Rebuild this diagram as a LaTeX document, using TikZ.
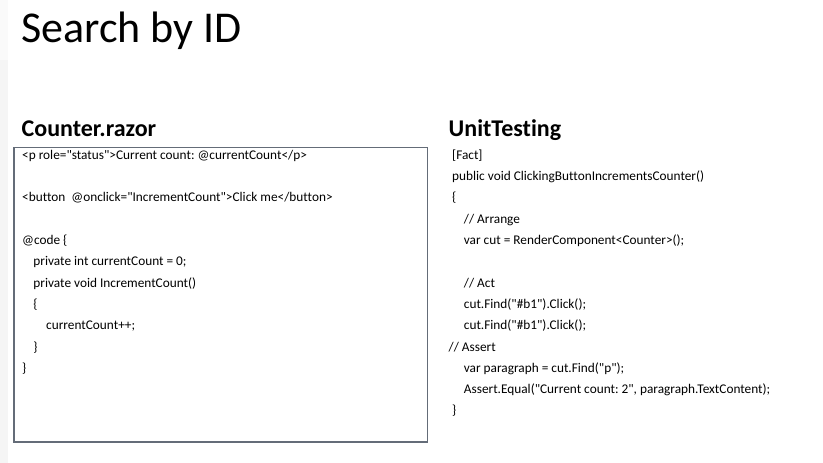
\documentclass[tikz,border=0pt]{standalone}
\usepackage{fontspec}
\setmainfont{Carlito}[Ligatures={TeXOff,CommonOff}]
\definecolor{boxline}{RGB}{100,108,120}
\frenchspacing
\begin{document}
\begin{tikzpicture}[x=1pt,y=-1pt,
  code/.style={anchor=base west,inner sep=0pt,font=\fontsize{13.3}{15}\selectfont},
  header/.style={anchor=base west,inner sep=0pt,font=\fontsize{24}{28}\selectfont\bfseries},
  titletext/.style={anchor=base west,inner sep=0pt,font=\fontsize{44}{50}\selectfont},
  codebox/.style={draw=boxline,line width=1.2pt,minimum width=413.5pt,minimum height=294.7pt,inner sep=0pt}]
\useasboundingbox (0,0) rectangle (823,463);
\fill[black!2] (0,0) rectangle (8,60);
\fill[black!4] (0,60) rectangle (8,463);
\node[titletext] (title) at (21,42) {Search by ID};
\node[header] (hleft) at (21.5,136.5) {Counter.razor};
\node[header] (hright) at (448.5,136.5) {UnitTesting};
\node[codebox] (box) at (220.75,294.65) {};
% left column
\def\bl#1{159.3+21.3*#1}
\node[code] (l0) at (22,{\bl{0}}) {<p role="status">Current count: @currentCount</p>};
\node[code] (l2) at (22,{\bl{2}}) {<button\ \ @onclick="IncrementCount">Click me</button>};
\node[code] (l4) at (22,{\bl{4}}) {@code \{};
\node[code] (l5) at (33.3,{\bl{5}}) {private int currentCount = 0;};
\node[code] (l6) at (33.3,{\bl{6}}) {private void IncrementCount()};
\node[code] (l7) at (33.3,{\bl{7}}) {\{};
\node[code] (l8) at (46,{\bl{8}}) {currentCount++;};
\node[code] (l9) at (33.3,{\bl{9}}) {\}};
\node[code] (l10) at (22,{\bl{10}}) {\}};
% right column
\node[code] (r0) at (452,{\bl{0}}) {[Fact]};
\node[code] (r1) at (452,{\bl{1}}) {public void ClickingButtonIncrementsCounter()};
\node[code] (r2) at (452,{\bl{2}}) {\{};
\node[code] (r3) at (463.7,{\bl{3}}) {// Arrange};
\node[code] (r4) at (463.7,{\bl{4}}) {var cut = RenderComponent<Counter>();};
\node[code] (r6) at (463.7,{\bl{6}}) {// Act};
\node[code] (r7) at (463.7,{\bl{7}}) {cut.Find("\#b1").Click();};
\node[code] (r8) at (463.7,{\bl{8}}) {cut.Find("\#b1").Click();};
\node[code] (r9) at (448.5,{\bl{9}}) {// Assert};
\node[code] (r10) at (463.7,{\bl{10}}) {var paragraph = cut.Find("p");};
\node[code] (r11) at (463.7,{\bl{11}}) {Assert.Equal("Current count: 2", paragraph.TextContent);};
\node[code] (r12) at (452,{\bl{12}}) {\}};
\end{tikzpicture}
\end{document}
